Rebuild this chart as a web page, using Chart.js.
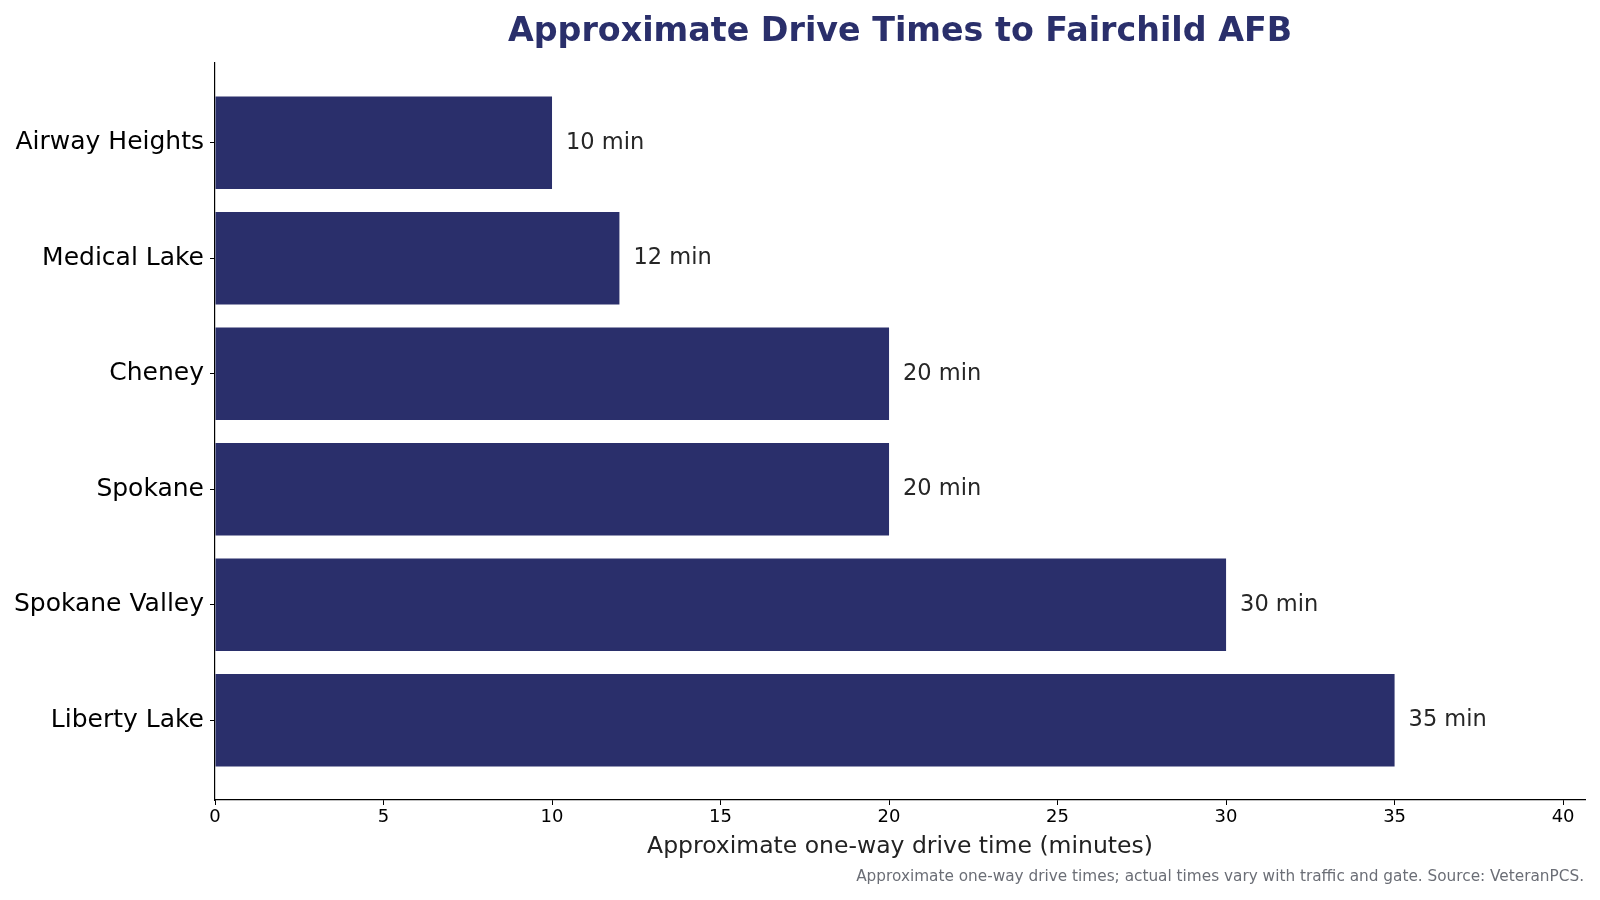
<!DOCTYPE html>
<html>
<head>
<meta charset="utf-8">
<script src="https://cdn.jsdelivr.net/npm/chart.js@4"></script>
<style>
  body { margin: 0; background: #fff; }
  #wrap { width: 1600px; height: 900px; }
</style>
</head>
<body>
<div id="wrap"><canvas id="myChart" width="1600" height="900"></canvas></div>
<script>
const cities = ['Airway Heights', 'Medical Lake', 'Cheney', 'Spokane', 'Spokane Valley', 'Liberty Lake'];
const minutes = [10, 12, 20, 20, 30, 35];
const xTicks = [0, 5, 10, 15, 20, 25, 30, 35, 40];

const navy = 'rgb(42, 47, 107)';
const fontFam = '"DejaVu Sans", sans-serif';

// value labels + title + footnote
const extras = {
  id: 'extras',
  afterDatasetsDraw(chart) {
    const ctx = chart.ctx;
    const xs = chart.scales.x, ys = chart.scales.y;
    ctx.save();
    ctx.font = '22.5px ' + fontFam;
    ctx.fillStyle = '#262626';
    ctx.textAlign = 'left';
    ctx.textBaseline = 'middle';
    minutes.forEach((v, i) => {
      ctx.fillText(v + ' min', xs.getPixelForValue(v) + 14, ys.getPixelForValue(i));
    });
    ctx.font = 'bold 33.3px ' + fontFam;
    ctx.fillStyle = navy;
    ctx.textAlign = 'center';
    ctx.fillText('Approximate Drive Times to Fairchild AFB', 900, 32);
    ctx.font = '15.3px ' + fontFam;
    ctx.fillStyle = '#6b6e76';
    ctx.textAlign = 'right';
    ctx.fillText('Approximate one-way drive times; actual times vary with traffic and gate. Source: VeteranPCS.', 1584, 877);
    ctx.restore();
  }
};

const ctx = document.getElementById('myChart').getContext('2d');
const myChart = new Chart(ctx, {
  type: 'bar',
  data: {
    datasets: [{
      data: minutes.map((v, i) => ({ x: v, y: i })),
      backgroundColor: navy,
      borderWidth: 0,
      barPercentage: 0.8,
      categoryPercentage: 1
    }]
  },
  options: {
    indexAxis: 'y',
    responsive: false,
    animation: false,
    layout: { padding: { left: 0, right: 15, top: 63, bottom: 35 } },
    plugins: { legend: { display: false }, tooltip: { enabled: false } },
    scales: {
      x: {
        type: 'linear',
        min: 0,
        max: 40.65,
        afterBuildTicks: s => { s.ticks = xTicks.map(v => ({ value: v })); },
        afterFit: s => { s.height = 65; },
        border: { color: '#000', width: 1.2 },
        grid: { drawOnChartArea: false, color: '#000', tickLength: 5 },
        ticks: { color: '#000', font: { family: fontFam, size: 18 }, padding: 2, maxRotation: 0 },
        title: { display: true, text: 'Approximate one-way drive time (minutes)', color: '#222', font: { family: fontFam, size: 23.5 }, padding: { top: 0 } }
      },
      y: {
        type: 'linear',
        reverse: true,
        offset: false,
        min: -0.69,
        max: 5.69,
        afterBuildTicks: s => { s.ticks = cities.map((c, i) => ({ value: i })); },
        afterFit: s => { s.width = 215; },
        border: { color: '#000', width: 1.2 },
        grid: { drawOnChartArea: false, offset: false, color: '#000', tickLength: 5 },
        ticks: { color: '#000', font: { family: fontFam, size: 25 }, padding: 6, callback: v => cities[v] }
      }
    }
  },
  plugins: [extras]
});
</script>
</body>
</html>
